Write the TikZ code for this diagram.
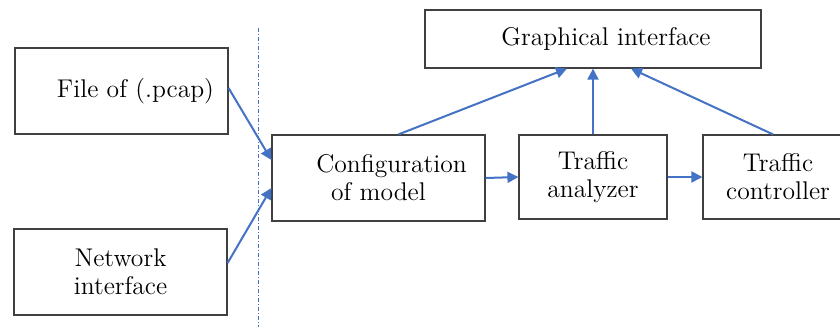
\documentclass[tikz,border=0pt]{standalone}
\usetikzlibrary{arrows.meta}
\definecolor{linkblue}{HTML}{4472C4}
\definecolor{boxgrey}{HTML}{404040}
\tikzstyle{block} = [rectangle, minimum width=106.5pt, minimum height=43pt,
text centered, align=center, draw=boxgrey, line width=0.6pt, inner sep=0pt]
\tikzstyle{arrow} = [draw=linkblue, line width=1pt, -{Triangle[length=5.5pt,width=5.5pt]}]
\tikzstyle{sepline} = [draw=linkblue, line width=0.4pt, dash pattern=on 2pt off 1pt on 0.5pt off 1pt]

\begin{document}
\begin{tikzpicture}[node distance = 1cm, font=\fontsize{12.8}{14}\selectfont]
\useasboundingbox (0,0) rectangle (420pt,-163.5pt);
\clip (0,0) rectangle (420pt,-163.5pt);

% ------------------------- nodes -------------------------

% ----- node: file
\node(file)[block] at (60.75pt,-45.5pt) {\hspace*{14pt}File of (.pcap)};
% ----- node: net
\node(net)[block, below of=file, xshift=-0.5pt, yshift=-62.05pt] {Network\\interface};
% ----- node: config
\node(config)[block, right of=file, xshift=100.05pt, yshift=-43.5pt] {\hspace*{13pt}Configuration\\of model};
% ----- node: analyzer
\node(analyzer)[block, right of=config, minimum width=74pt, minimum height=42pt, xshift=78.8pt, yshift=0.5pt] {Traffic\\analyzer};
% ----- node: controller
\node(controller)[block, right of=analyzer, minimum width=75pt, minimum height=42pt, xshift=64.05pt] {Traffic\\controller};
% ----- node: gui
\node(gui)[block, above of=analyzer, minimum width=168pt, minimum height=29pt, yshift=40.55pt] {\hspace*{13pt}Graphical interface};

% ------------------------- separator -------------------------
\coordinate(septop) at (129pt,-14pt);
\coordinate(sepbot) at (129pt,-163.5pt);
\draw[sepline] (septop) -- (sepbot);

% ------------------------- arrows -------------------------
\draw[arrow] ([yshift=1.5pt]file.east) -- ([yshift=9pt]config.west);
\draw[arrow] ([yshift=4.5pt]net.east) -- ([yshift=-5pt]config.west);
\draw[arrow] ([xshift=10pt]config.north) -- ([xshift=-13pt]gui.south);
\draw[arrow] (analyzer.north) -- (gui.south);
\draw[arrow] ([xshift=-2.5pt]controller.north) -- ([xshift=19pt]gui.south);
\draw[arrow] (config.east) -- (analyzer.west);
\draw[arrow] (analyzer.east) -- (controller.west);

\end{tikzpicture}
\end{document}
